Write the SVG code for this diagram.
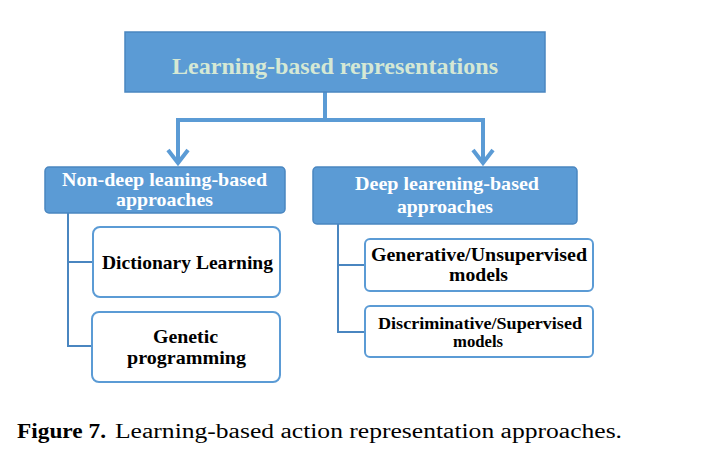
<svg xmlns="http://www.w3.org/2000/svg" width="710" height="466" viewBox="0 0 710 466">
<defs>
<style>
.blue{fill:#5b9bd5;stroke:#4a86c0;stroke-width:1.5}
.child{fill:#ffffff;stroke:#5b9bd5;stroke-width:2}
.lbl{font-family:"Liberation Serif",serif;font-weight:bold;text-anchor:middle}
.wt{fill:#ffffff}
.bk{fill:#000000}
.conn{fill:none;stroke:#5b9bd5;stroke-width:4}
.thin{fill:none;stroke:#4a86c0;stroke-width:2}
.cap{font-family:"Liberation Serif",serif;font-size:20px;fill:#000000}
</style>
</defs>
<rect width="710" height="466" fill="#ffffff"/>
<g id="connectors">
<path class="conn" d="M325 92 V120 M178 120 H483 M178 118 V163 M483 118 V163"/>
<path class="conn" d="M168 150 L178 163 L188 150 M473 150 L483 163 L493 150"/>
<path class="thin" d="M68 213 V346 H92 M68 262 H93"/>
<path class="thin" d="M338 224 V332 H365 M338 265 H365"/>
</g>
<g id="root">
<rect class="blue" x="125" y="32" width="420" height="60" stroke="#41719c"/>
<text class="lbl" x="335" y="74" font-size="24" fill="#d5e8d4" textLength="326" lengthAdjust="spacingAndGlyphs">Learning-based representations</text>
</g>
<g id="nondeep">
<rect class="blue" x="45" y="167" width="240" height="46" rx="4"/>
<text class="lbl wt" x="164.5" y="186" font-size="19" textLength="205" lengthAdjust="spacingAndGlyphs">Non-deep leaning-based</text>
<text class="lbl wt" x="164.5" y="206" font-size="19" textLength="97" lengthAdjust="spacingAndGlyphs">approaches</text>
</g>
<g id="deep">
<rect class="blue" x="313" y="167" width="264" height="57" rx="4"/>
<text class="lbl wt" x="447" y="190" font-size="19" textLength="184" lengthAdjust="spacingAndGlyphs">Deep learening-based</text>
<text class="lbl wt" x="445" y="213" font-size="19" textLength="96" lengthAdjust="spacingAndGlyphs">approaches</text>
</g>
<g id="dict">
<rect class="child" x="93" y="227" width="187" height="70" rx="7"/>
<text class="lbl bk" x="187.5" y="269" font-size="19.5" textLength="171" lengthAdjust="spacingAndGlyphs">Dictionary Learning</text>
</g>
<g id="genetic">
<rect class="child" x="92" y="312" width="188" height="70" rx="7"/>
<text class="lbl bk" x="185.5" y="343" font-size="19.5" textLength="65" lengthAdjust="spacingAndGlyphs">Genetic</text>
<text class="lbl bk" x="186.5" y="364" font-size="19.5" textLength="119" lengthAdjust="spacingAndGlyphs">programming</text>
</g>
<g id="generative">
<rect class="child" x="365" y="239" width="228" height="52" rx="5"/>
<text class="lbl bk" x="479" y="261" font-size="19" textLength="216" lengthAdjust="spacingAndGlyphs">Generative/Unsupervised</text>
<text class="lbl bk" x="478.5" y="281" font-size="19" textLength="59" lengthAdjust="spacingAndGlyphs">models</text>
</g>
<g id="discriminative">
<rect class="child" x="365" y="306" width="228" height="51" rx="5"/>
<text class="lbl bk" x="480" y="329" font-size="17" textLength="204" lengthAdjust="spacingAndGlyphs">Discriminative/Supervised</text>
<text class="lbl bk" x="478" y="347" font-size="17" textLength="50" lengthAdjust="spacingAndGlyphs">models</text>
</g>
<text class="cap" x="17" y="438" font-weight="bold" textLength="89" lengthAdjust="spacingAndGlyphs">Figure 7.</text>
<text class="cap" x="115" y="438" textLength="507" lengthAdjust="spacingAndGlyphs">Learning-based action representation approaches.</text>
</svg>
